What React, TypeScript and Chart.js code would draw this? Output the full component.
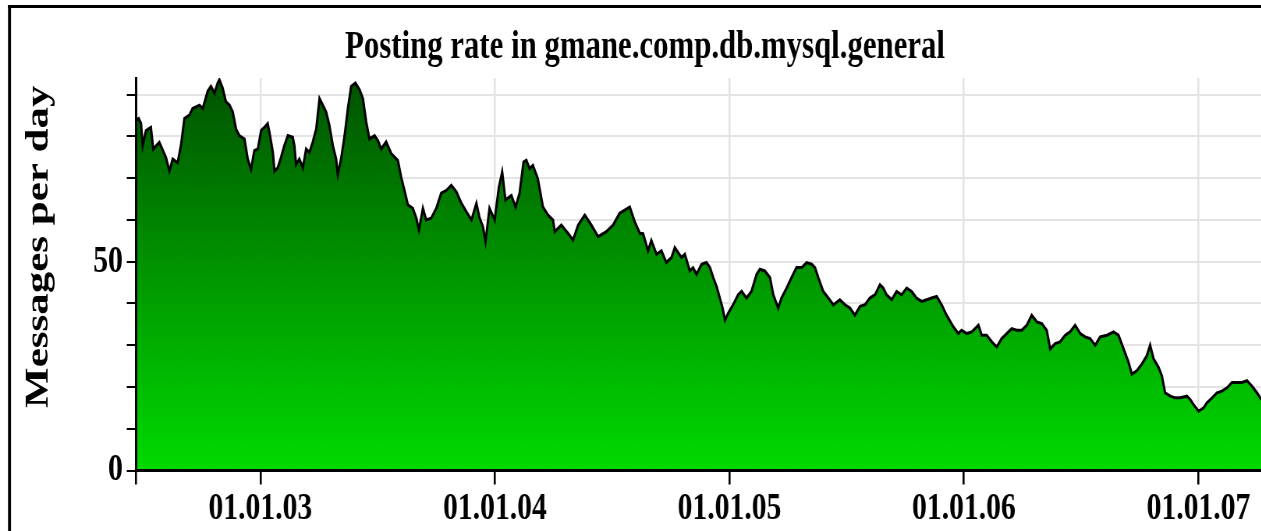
import React, { useEffect, useRef } from 'react';
import { Chart, registerables } from 'chart.js';

Chart.register(...registerables);

// ---------- data ----------
const TITLE = 'Posting rate in gmane.comp.db.mysql.general';
const Y_TITLE = 'Messages per day';

// fractional years
const xYears = [
  2002.470, 2002.481, 2002.491, 2002.498, 2002.512, 2002.533, 2002.543, 2002.569, 2002.597, 2002.612,
  2002.626, 2002.647, 2002.661, 2002.676, 2002.697, 2002.711, 2002.740, 2002.754, 2002.775, 2002.789,
  2002.804, 2002.818, 2002.825, 2002.839, 2002.853, 2002.868, 2002.882, 2002.896, 2002.910, 2002.932,
  2002.946, 2002.960, 2002.974, 2002.989, 2003.003, 2003.017, 2003.031, 2003.041, 2003.053, 2003.060,
  2003.074, 2003.088, 2003.102, 2003.117, 2003.138, 2003.145, 2003.152, 2003.166, 2003.181, 2003.195,
  2003.209, 2003.223, 2003.238, 2003.252, 2003.266, 2003.280, 2003.294, 2003.309, 2003.323, 2003.330,
  2003.344, 2003.359, 2003.373, 2003.387, 2003.405, 2003.423, 2003.437, 2003.451, 2003.465, 2003.487,
  2003.501, 2003.515, 2003.536, 2003.558, 2003.586, 2003.600, 2003.614, 2003.629, 2003.650, 2003.665,
  2003.676, 2003.693, 2003.707, 2003.728, 2003.750, 2003.771, 2003.793, 2003.814, 2003.836, 2003.857,
  2003.878, 2003.900, 2003.921, 2003.935, 2003.949, 2003.960, 2003.977, 2003.999, 2004.017, 2004.031,
  2004.045, 2004.070, 2004.088, 2004.105, 2004.122, 2004.134, 2004.148, 2004.162, 2004.183, 2004.205,
  2004.226, 2004.248, 2004.255, 2004.283, 2004.312, 2004.333, 2004.355, 2004.383, 2004.411, 2004.440,
  2004.475, 2004.504, 2004.532, 2004.575, 2004.596, 2004.618, 2004.632, 2004.653, 2004.667, 2004.689,
  2004.710, 2004.731, 2004.753, 2004.767, 2004.781, 2004.796, 2004.810, 2004.831, 2004.845, 2004.860,
  2004.881, 2004.902, 2004.917, 2004.931, 2004.945, 2004.959, 2004.971, 2004.981, 2004.995, 2005.016,
  2005.037, 2005.052, 2005.073, 2005.094, 2005.116, 2005.130, 2005.151, 2005.173, 2005.187, 2005.208,
  2005.222, 2005.244, 2005.265, 2005.286, 2005.308, 2005.329, 2005.351, 2005.365, 2005.379, 2005.400,
  2005.422, 2005.443, 2005.471, 2005.493, 2005.514, 2005.535, 2005.557, 2005.578, 2005.599, 2005.621,
  2005.642, 2005.656, 2005.670, 2005.692, 2005.713, 2005.734, 2005.756, 2005.777, 2005.798, 2005.820,
  2005.841, 2005.862, 2005.884, 2005.905, 2005.926, 2005.955, 2005.976, 2005.990, 2006.012, 2006.033,
  2006.062, 2006.076, 2006.097, 2006.119, 2006.140, 2006.161, 2006.183, 2006.204, 2006.225, 2006.247,
  2006.268, 2006.289, 2006.311, 2006.332, 2006.353, 2006.368, 2006.389, 2006.410, 2006.432, 2006.453,
  2006.474, 2006.496, 2006.517, 2006.538, 2006.560, 2006.581, 2006.610, 2006.638, 2006.659, 2006.681,
  2006.702, 2006.716, 2006.737, 2006.759, 2006.780, 2006.794, 2006.809, 2006.830, 2006.844, 2006.858,
  2006.880, 2006.901, 2006.922, 2006.951, 2006.965, 2006.979, 2007.001, 2007.022, 2007.036, 2007.058,
  2007.079, 2007.100, 2007.122, 2007.143, 2007.164, 2007.186, 2007.207, 2007.228, 2007.250, 2007.268,
];

const messagesPerDay = [
  83.9, 84.3, 83.1, 77.8, 81.4, 82.2, 77.0, 78.6, 75.0, 71.7,
  74.6, 73.7, 77.8, 84.3, 85.1, 86.7, 87.5, 86.7, 90.8, 92.0,
  90.4, 92.8, 93.6, 91.6, 88.3, 87.5, 85.9, 81.8, 80.2, 79.4,
  74.6, 72.1, 76.6, 77.0, 81.4, 82.2, 83.1, 80.2, 76.2, 71.7,
  72.5, 75.0, 77.8, 80.2, 79.8, 77.8, 73.3, 74.6, 72.5, 77.0,
  76.2, 78.6, 81.8, 89.1, 87.5, 85.9, 82.7, 77.8, 74.6, 70.9,
  74.6, 80.2, 86.7, 92.0, 92.8, 91.2, 89.1, 83.5, 79.4, 80.2,
  79.0, 77.0, 78.7, 75.9, 74.3, 70.3, 67.1, 63.6, 62.8, 60.4,
  57.6, 62.8, 60.0, 60.4, 62.8, 66.4, 67.1, 68.3, 66.7, 64.0,
  62.0, 60.0, 64.0, 60.4, 58.4, 54.8, 62.8, 60.0, 67.9, 71.5,
  64.8, 65.9, 63.1, 66.4, 73.9, 74.3, 72.3, 73.1, 69.9, 63.1,
  61.2, 60.0, 57.2, 58.8, 56.8, 55.2, 58.8, 61.2, 58.8, 56.0,
  57.2, 58.8, 61.6, 63.1, 59.6, 56.8, 56.7, 52.6, 55.1, 51.8,
  52.6, 49.8, 51.0, 53.4, 52.2, 51.0, 51.8, 47.8, 48.6, 47.0,
  49.4, 49.8, 48.6, 46.2, 44.1, 41.3, 38.9, 36.0, 37.7, 39.7,
  42.1, 42.9, 41.3, 42.9, 47.0, 48.2, 47.8, 46.2, 42.1, 38.9,
  41.3, 43.7, 46.2, 48.6, 48.6, 49.8, 49.4, 48.6, 46.2, 42.9,
  41.3, 39.7, 40.9, 39.7, 38.9, 37.2, 39.3, 39.7, 41.3, 42.1,
  44.5, 43.7, 42.1, 40.9, 42.9, 42.1, 43.7, 42.9, 41.3, 40.5,
  40.9, 41.3, 41.7, 39.7, 37.2, 34.4, 32.8, 33.6, 32.8, 33.2,
  34.8, 32.4, 32.4, 30.8, 29.6, 31.6, 32.8, 34.0, 33.6, 33.6,
  34.8, 37.2, 35.6, 35.2, 33.6, 29.1, 30.4, 30.8, 32.4, 33.2,
  34.8, 32.8, 32.0, 31.6, 30.0, 32.0, 32.4, 33.2, 32.4, 29.1,
  25.9, 23.1, 23.9, 25.5, 27.5, 30.0, 26.7, 24.7, 22.7, 18.6,
  17.8, 17.4, 17.4, 17.8, 17.0, 15.8, 14.2, 15.0, 16.2, 17.4,
  18.6, 19.0, 19.8, 21.1, 21.1, 21.1, 21.5, 20.2, 18.6, 17.0,
];

const X_MIN = 2002.47;
const X_MAX = 2007.268;
const Y_MIN = 0;
const Y_MAX = 94;

const xTickValues = [2003, 2004, 2005, 2006, 2007];
const xTickLabels = ['01.01.03', '01.01.04', '01.01.05', '01.01.06', '01.01.07'];
const yTickValues = [0, 10, 20, 30, 40, 50, 60, 70, 80, 90];
const yTickLabels = ['0', '', '', '', '', '50', '', '', '', ''];

// ---------- layout (virtual canvas, squeezed horizontally by SX) ----------
const SX = 0.78;
const VW = Math.round(1261 / SX);
const VH = 531;
const FONT = '"Liberation Serif", "Times New Roman", serif';
const AXIS_LEFT = 174.5;
const AXIS_BOTTOM = 470.5;
const PLOT_TOP = 78;

const decorPlugin = {
  id: 'decor',
  afterDraw(chart: any) {
    const ctx = chart.ctx as CanvasRenderingContext2D;
    ctx.save();
    // frame
    ctx.fillStyle = '#000';
    ctx.fillRect(8 / SX, 5, VW, 3);
    ctx.fillRect(8 / SX, 5, 3 / SX, VH);
    // title
    ctx.font = `bold 39.5px ${FONT}`;
    ctx.textAlign = 'center';
    ctx.textBaseline = 'alphabetic';
    ctx.fillText(TITLE, 645 / SX, 58);
    // y title
    ctx.translate(47.7 / SX, 246.7);
    ctx.rotate(-Math.PI / 2);
    ctx.font = `bold 43px ${FONT}`;
    ctx.fillText(Y_TITLE, 0, 0);
    ctx.restore();
  },
};

export default function App() {
  const canvasRef = useRef<HTMLCanvasElement | null>(null);

  useEffect(() => {
    if (!canvasRef.current) return;
    const n = Math.min(xYears.length, messagesPerDay.length);
    const points = xYears.slice(0, n).map((x, i) => ({ x, y: messagesPerDay[i] }));
    const tickFont = { family: FONT, size: 38, weight: 'bold' as const, lineHeight: 1.2 };

    const chart = new Chart(canvasRef.current, {
      type: 'line',
      data: {
        datasets: [
          {
            data: points,
            borderColor: '#000',
            borderWidth: 3,
            pointRadius: 0,
            tension: 0,
            fill: 'origin',
            backgroundColor: (c: any) => {
              const area = c.chart.chartArea;
              if (!area) return 'rgb(0,150,0)';
              const g = c.chart.ctx.createLinearGradient(0, area.top, 0, area.bottom);
              g.addColorStop(0, 'rgb(0,82,0)');
              g.addColorStop(1, 'rgb(0,218,0)');
              return g;
            },
          },
        ],
      },
      options: {
        responsive: false,
        animation: false,
        devicePixelRatio: 1,
        events: [],
        layout: { padding: { top: PLOT_TOP, left: 0, right: 0, bottom: 0 } },
        plugins: {
          legend: { display: false },
          tooltip: { enabled: false },
          title: { display: false },
        },
        scales: {
          x: {
            type: 'linear',
            min: X_MIN,
            max: X_MAX,
            afterBuildTicks: (s: any) => {
              s.ticks = [X_MIN, ...xTickValues].map((v) => ({ value: v }));
            },
            afterFit: (s: any) => {
              s.height = VH - AXIS_BOTTOM;
            },
            ticks: {
              callback: (v: any) => {
                const i = xTickValues.indexOf(Number(v));
                return i >= 0 ? xTickLabels[i] : '';
              },
              font: tickFont,
              color: '#000',
              padding: 2,
              maxRotation: 0,
              minRotation: 0,
              autoSkip: false,
            },
            grid: {
              color: '#e4e4e4',
              lineWidth: 2.6,
              tickColor: '#000',
              tickLength: 14,
              tickWidth: 2.6,
            },
            border: { display: true, color: '#000', width: 3, z: 1 },
          },
          y: {
            type: 'linear',
            min: Y_MIN,
            max: Y_MAX,
            afterBuildTicks: (s: any) => {
              s.ticks = yTickValues.map((v) => ({ value: v }));
            },
            afterFit: (s: any) => {
              s.width = AXIS_LEFT;
            },
            ticks: {
              callback: (v: any) => {
                const i = yTickValues.indexOf(Number(v));
                return i >= 0 ? yTickLabels[i] : '';
              },
              font: tickFont,
              color: '#000',
              padding: 5,
              autoSkip: false,
            },
            grid: {
              color: '#e4e4e4',
              lineWidth: 2,
              tickColor: '#000',
              tickLength: 12,
              tickWidth: 2,
            },
            border: { display: true, color: '#000', width: 3, z: 1 },
          },
        },
      },
      plugins: [decorPlugin],
    });
    return () => chart.destroy();
  }, []);

  return (
    <div
      style={{
        position: 'fixed',
        left: 0,
        top: 0,
        width: 1261,
        height: 531,
        overflow: 'hidden',
        background: '#fff',
      }}
    >
      <div style={{ width: VW, height: VH, transform: `scaleX(${SX})`, transformOrigin: '0 0' }}>
        <canvas ref={canvasRef} width={VW} height={VH} style={{ display: 'block' }} />
      </div>
    </div>
  );
}
